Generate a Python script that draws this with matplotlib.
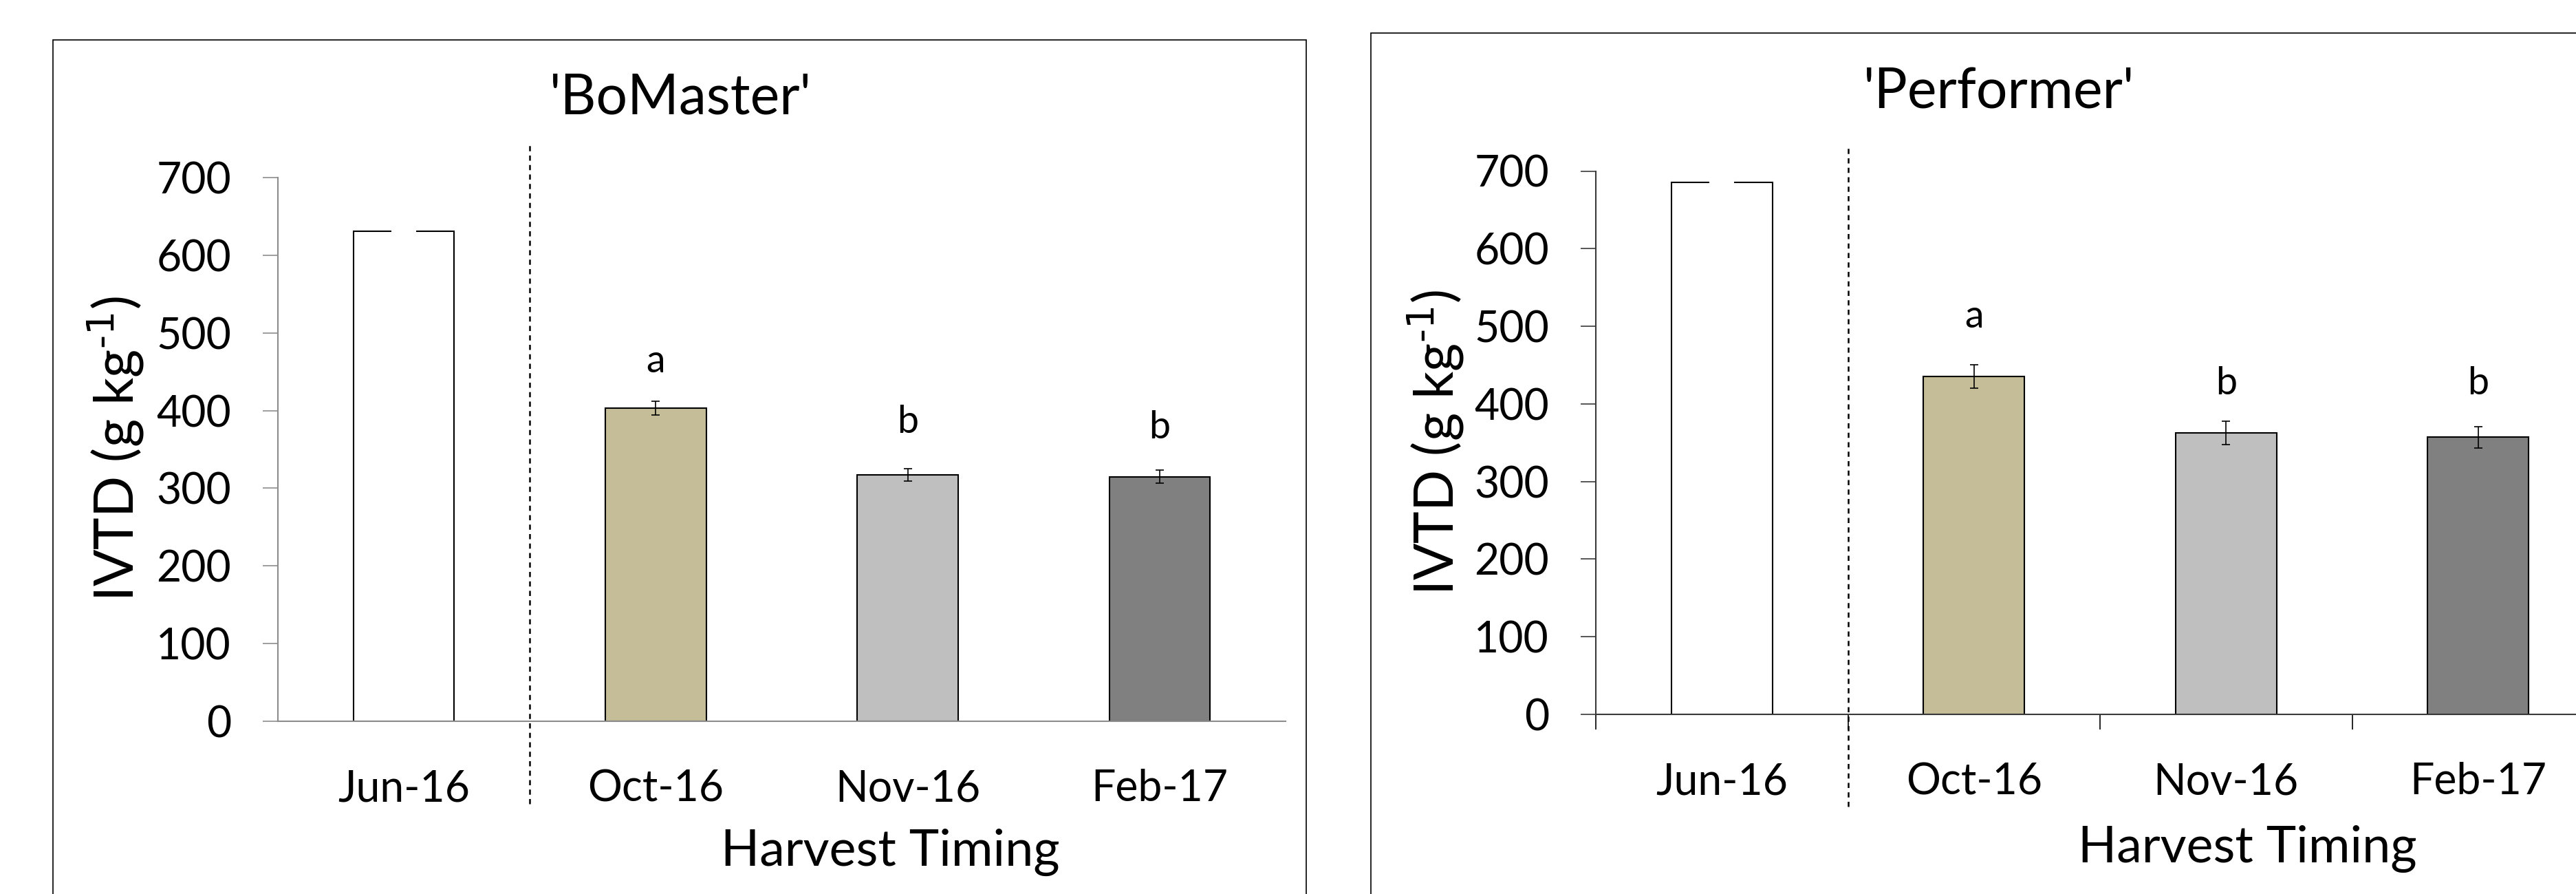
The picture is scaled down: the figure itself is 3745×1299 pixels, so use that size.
import matplotlib
matplotlib.use("Agg")
import matplotlib.pyplot as plt
from matplotlib.patches import Rectangle

plt.rcParams['font.family'] = ['Lato', 'DejaVu Sans']
plt.rcParams['mathtext.default'] = 'regular'

# data
months = ['Jun-16', 'Oct-16', 'Nov-16', 'Feb-17']
bar_colors = ['white', '#C4BD97', '#BFBFBF', '#808080']

bomaster_ivtd = [631, 403, 317, 315]
bomaster_err = [0, 9, 8, 8]
bomaster_letters = ['', 'a', 'b', 'b']
bomaster_letter_y = [0, 463, 385, 378]

performer_ivtd = [685, 435, 363, 357]
performer_err = [0, 15, 15, 14]
performer_letters = ['', 'a', 'b', 'b']
performer_letter_y = [0, 512, 426, 426]

W, H = 3745, 1299
fig = plt.figure(figsize=(W / 100, H / 100), dpi=100)

# outer boxes around each panel
fig.patches.append(Rectangle((77 / W, -0.02), (1899 - 77) / W, 0.9553 + 0.02,
                             transform=fig.transFigure, fill=False, ec='black', lw=1.2))
fig.patches.append(Rectangle((1993 / W, -0.02), 0.5, 0.963 + 0.02,
                             transform=fig.transFigure, fill=False, ec='black', lw=1.2))


def panel(rect, vals, errs, letters, letter_y, title, title_xy, ylab_xy, xlab_xy,
          spine_col, dash_lims, boundary_ticks):
    ax = fig.add_axes(rect)
    x = range(len(months))
    ax.bar(x, vals, width=0.4, color=bar_colors, edgecolor='black', linewidth=1.5, zorder=2)
    # the first bar has no error bar, only a white gap at its top
    ax.errorbar(0, vals[0], yerr=0, fmt='none', ecolor='white', capsize=13, capthick=3, zorder=3)
    ax.errorbar(list(x)[1:], vals[1:], yerr=errs[1:], fmt='none', ecolor='black',
                elinewidth=1.2, capsize=4.5, capthick=1.2, zorder=3)
    for xi, t, ty in zip(x, letters, letter_y):
        if t:
            ax.text(xi, ty, t, ha='center', va='center', fontsize=40)
    ax.axvline(0.5, ymin=dash_lims[0], ymax=dash_lims[1], color='black', ls=(0, (3, 2.5)),
               lw=1.8, clip_on=False)
    ax.set_xlim(-0.5, 3.5)
    ax.set_ylim(0, 700)
    ax.set_yticks(range(0, 701, 100))
    ax.set_xticks(list(x))
    ax.set_xticklabels(months)
    ax.tick_params(axis='y', labelsize=45, length=16, width=1.2, color=spine_col, pad=33)
    ax.tick_params(axis='x', which='major', labelsize=45, length=0, pad=50)
    if boundary_ticks:
        ax.set_xticks([-0.5, 0.5, 1.5, 2.5], minor=True)
        ax.tick_params(axis='x', which='minor', length=16, width=1.2, color='black')
    for s in ['top', 'right']:
        ax.spines[s].set_visible(False)
    for s in ['left', 'bottom']:
        ax.spines[s].set_color(spine_col)
        ax.spines[s].set_linewidth(1.5)
    fig.text(title_xy[0], title_xy[1], title, ha='center', va='center', fontsize=58)
    fig.text(ylab_xy[0], ylab_xy[1], r'IVTD (g kg$^{\text{-1}}$)', ha='center', va='center',
             rotation=90, fontsize=57)
    fig.text(xlab_xy[0], xlab_xy[1], 'Harvest Timing', ha='center', va='center', fontsize=53)
    return ax


panel([404 / W, 1 - 1048 / H, (1869 - 404) / W, 790 / H],
      bomaster_ivtd, bomaster_err, bomaster_letters, bomaster_letter_y,
      "'BoMaster'", (989 / W, 1 - 142 / H), (168 / W, 1 - 652 / H), (1294 / W, 1 - 1238 / H),
      '#8C8C8C', (-0.152, 1.059), False)

panel([2320 / W, 1 - 1038 / H, (3786 - 2320) / W, 789.5 / H],
      performer_ivtd, performer_err, performer_letters, performer_letter_y,
      "'Performer'", (2906 / W, 1 - 134 / H), (2087 / W, 1 - 643 / H), (3267 / W, 1 - 1233 / H),
      '#3A3A3A', (-0.17, 1.044), True)

fig.savefig('out.png', dpi=100)
